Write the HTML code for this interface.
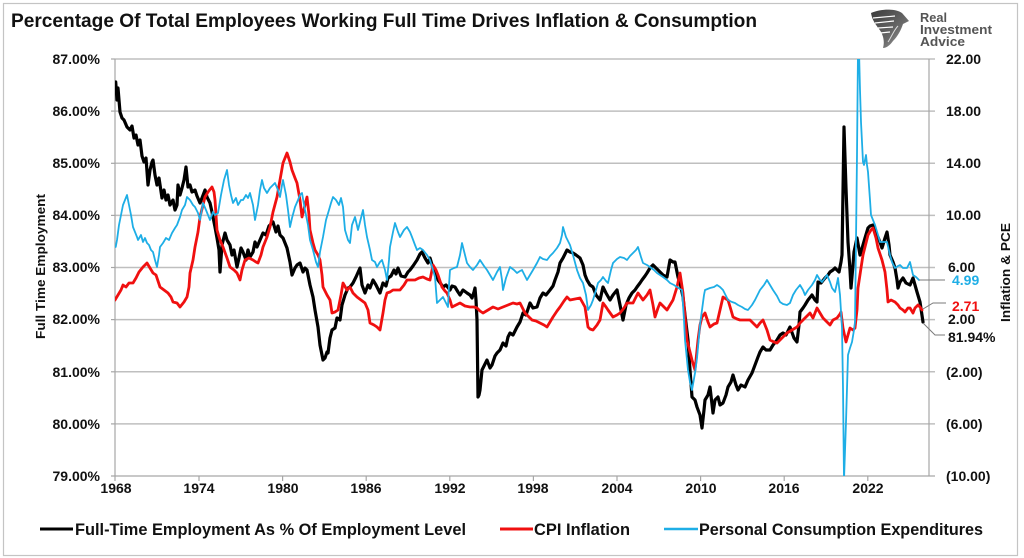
<!DOCTYPE html>
<html>
<head>
<meta charset="utf-8">
<style>
  html,body{margin:0;padding:0;background:#fff;}
  body{width:1024px;height:558px;overflow:hidden;}
  svg{display:block;}
  text{font-family:"Liberation Sans",Arial,sans-serif;font-weight:bold;}
</style>
</head>
<body>
<svg width="1024" height="558" viewBox="0 0 1024 558" xmlns="http://www.w3.org/2000/svg">
  <defs>
    <clipPath id="plot"><rect x="115" y="59" width="814" height="417"/></clipPath>
    <linearGradient id="eg" x1="0" y1="0" x2="1" y2="1">
      <stop offset="0" stop-color="#3a3a3a"/>
      <stop offset="0.6" stop-color="#6a6a6a"/>
      <stop offset="1" stop-color="#b0b0b0"/>
    </linearGradient>
  </defs>
  <rect x="0" y="0" width="1024" height="558" fill="#fff"/>
  <rect x="3.5" y="3.5" width="1014" height="552" fill="none" stroke="#c4c4c4" stroke-width="1.2"/>

  <!-- Title -->
  <text x="11" y="27" font-size="19" fill="#111" textLength="746" lengthAdjust="spacingAndGlyphs">Percentage Of Total Employees Working Full Time Drives Inflation &amp; Consumption</text>

  <!-- Logo -->
  <g>
    <path d="M871,13 C880,9 895,8 902,13 L909,21 L903,24 C901,30 898,36 893,41 C890,45 887,48 883,48 C885,41 883,34 879,29 C876,25 872,20 871,13 Z" fill="url(#eg)"/>
    <path d="M873,18 L895,16 M875,23 L894,21 M878,28 L893,27 M880,33 L890,32" stroke="#fff" stroke-width="1.2" fill="none"/>
    <path d="M898,26 C894,30 892,36 888,42" stroke="#ddd" stroke-width="1" fill="none"/>
    <text x="920" y="22" font-size="12.5" fill="#555" textLength="27" lengthAdjust="spacingAndGlyphs">Real</text>
    <text x="920" y="34" font-size="12.5" fill="#555" textLength="72" lengthAdjust="spacingAndGlyphs">Investment</text>
    <text x="920" y="46" font-size="12.5" fill="#555" textLength="45" lengthAdjust="spacingAndGlyphs">Advice</text>
  </g>

  <!-- Gridlines -->
  <g stroke="#bfbfbf" stroke-width="1.5">
    <line x1="115" y1="59" x2="935" y2="59"/>
    <line x1="115" y1="111.1" x2="935" y2="111.1"/>
    <line x1="115" y1="163.3" x2="935" y2="163.3"/>
    <line x1="115" y1="215.4" x2="935" y2="215.4"/>
    <line x1="115" y1="267.5" x2="935" y2="267.5"/>
    <line x1="115" y1="319.6" x2="935" y2="319.6"/>
    <line x1="115" y1="371.8" x2="935" y2="371.8"/>
    <line x1="115" y1="423.9" x2="935" y2="423.9"/>
  </g>
  <!-- Axes -->
  <g stroke="#a6a6a6" stroke-width="1.2">
    <line x1="115" y1="59" x2="115" y2="476"/>
    <line x1="929" y1="59" x2="929" y2="476"/>
    <line x1="111" y1="476" x2="935" y2="476"/>
    <line x1="111" y1="59" x2="115" y2="59"/>
    <line x1="111" y1="111.1" x2="115" y2="111.1"/>
    <line x1="111" y1="163.3" x2="115" y2="163.3"/>
    <line x1="111" y1="215.4" x2="115" y2="215.4"/>
    <line x1="111" y1="267.5" x2="115" y2="267.5"/>
    <line x1="111" y1="319.6" x2="115" y2="319.6"/>
    <line x1="111" y1="371.8" x2="115" y2="371.8"/>
    <line x1="111" y1="423.9" x2="115" y2="423.9"/>
    <line x1="115" y1="476" x2="115" y2="481"/>
    <line x1="199" y1="476" x2="199" y2="481"/>
    <line x1="282.6" y1="476" x2="282.6" y2="481"/>
    <line x1="366.2" y1="476" x2="366.2" y2="481"/>
    <line x1="449.8" y1="476" x2="449.8" y2="481"/>
    <line x1="533.4" y1="476" x2="533.4" y2="481"/>
    <line x1="617" y1="476" x2="617" y2="481"/>
    <line x1="700.6" y1="476" x2="700.6" y2="481"/>
    <line x1="784.2" y1="476" x2="784.2" y2="481"/>
    <line x1="867.8" y1="476" x2="867.8" y2="481"/>
  </g>

  <!-- Left axis labels -->
  <g font-size="14" fill="#111" text-anchor="end">
    <text x="100" y="64">87.00%</text>
    <text x="100" y="116">86.00%</text>
    <text x="100" y="168">85.00%</text>
    <text x="100" y="220">84.00%</text>
    <text x="100" y="272">83.00%</text>
    <text x="100" y="324">82.00%</text>
    <text x="100" y="377">81.00%</text>
    <text x="100" y="429">80.00%</text>
    <text x="100" y="481">79.00%</text>
  </g>
  <!-- Right axis labels -->
  <g font-size="14" fill="#111">
    <text x="946" y="64">22.00</text>
    <text x="946" y="116">18.00</text>
    <text x="946" y="168">14.00</text>
    <text x="946" y="220">10.00</text>
    <text x="948" y="272">6.00</text>
    <text x="948" y="324">2.00</text>
    <text x="946" y="377">(2.00)</text>
    <text x="946" y="429">(6.00)</text>
    <text x="946" y="481">(10.00)</text>
  </g>
  <!-- X axis labels -->
  <g font-size="14" fill="#111" text-anchor="middle">
    <text x="116" y="493">1968</text>
    <text x="199" y="493">1974</text>
    <text x="283" y="493">1980</text>
    <text x="366" y="493">1986</text>
    <text x="450" y="493">1992</text>
    <text x="533" y="493">1998</text>
    <text x="617" y="493">2004</text>
    <text x="701" y="493">2010</text>
    <text x="784" y="493">2016</text>
    <text x="868" y="493">2022</text>
  </g>

  <!-- Axis titles -->
  <text transform="translate(45,339) rotate(-90)" font-size="13" fill="#111" textLength="145" lengthAdjust="spacingAndGlyphs">Full Time Employment</text>
  <text transform="translate(1010,322) rotate(-90)" font-size="13" fill="#111" textLength="99" lengthAdjust="spacingAndGlyphs">Inflation &amp; PCE</text>

  <!-- Series -->
  <g clip-path="url(#plot)" fill="none" stroke-linejoin="round" stroke-linecap="round">
    <polyline stroke="#000" stroke-width="3.2" points="115.7,82 117,100 118,88 120,112 122,118 124,120 127,127 130,130 132,126 134,138 136,135 138,145 140,140 142,156 144,162 146,158 148,185 150,170 152,162 153,160 155,175 157,185 159,178 162,198 164,190 166,200 168,195 170,205 173,200 175,210 177,205 178,185 180,195 182,188 184,180 186,167 188,187 190,185 192,192 195,190 197,196 200,203 202,198 205,190 207,197 210,203 212,212 215,227 217,238 219,250 220,272 222,245 225,233 227,240 230,245 232,255 234,250 237,267 239,258 241,248 243,252 246,260 248,250 250,257 253,252 255,242 257,247 260,240 263,233 266,235 269,226 273,222 276,232 278,226 280,235 283,238 285,243 287,248 290,262 292,275 295,268 297,265 300,263 303,272 305,268 307,270 310,285 313,297 315,310 318,327 320,345 322,355 323,360 325,358 327,352 328,353 330,338 332,330 335,328 337,318 340,320 342,305 345,295 348,288 350,287 353,283 356,277 360,268 362,285 365,293 368,285 370,288 373,280 376,285 380,293 383,283 386,286 388,278 391,276 394,270 396,274 398,268 401,276 405,277 408,272 410,270 413,266 417,260 420,254 422,252 425,258 428,263 430,258 433,268 436,272 438,280 441,284 443,287 446,285 450,290 452,286 455,287 458,292 460,295 463,290 467,293 470,295 472,298 474,292 475,288 476,300 477,320 478,397 479,395 480,390 482,370 484,366 487,360 490,368 492,365 495,356 497,353 500,350 503,343 506,346 508,337 510,333 513,335 517,327 520,322 523,313 526,315 530,303 533,308 537,307 540,298 543,293 546,295 550,290 553,286 555,280 558,272 560,263 563,258 567,250 570,252 573,253 576,255 580,258 583,265 585,275 587,280 590,285 593,287 596,295 600,300 603,287 606,293 610,300 613,295 617,290 620,305 623,320 626,305 629,298 632,293 635,290 637,287 640,283 642,280 645,276 647,273 650,268 653,265 656,268 660,272 663,275 667,277 670,260 673,262 675,262 678,277 681,287 683,297 685,315 688,340 690,370 692,397 695,400 697,407 700,415 702,428 704,410 705,400 708,395 710,387 713,413 715,400 718,397 720,405 723,403 726,395 728,387 731,382 733,375 736,385 738,390 741,385 745,387 748,380 752,373 755,365 758,357 760,352 763,347 766,350 770,350 773,345 777,340 780,335 783,333 786,335 790,327 794,338 797,342 799,325 800,312 803,308 805,305 808,300 812,295 815,300 817,302 818,282 821,283 825,278 828,275 830,272 833,270 835,268 837,270 839,272 841,262 842,255 844,127 846,188 848,242 850,270 851,288 853,265 854,252 857,238 860,255 863,245 865,238 868,228 870,226 873,225 875,230 877,235 880,242 882,248 885,238 887,232 889,245 890,255 893,262 895,268 897,280 898,288 900,282 903,278 906,283 910,285 913,278 915,285 917,292 920,302 923,322"/>
    <polyline stroke="#f01010" stroke-width="2.8" points="115,300 118,295 121,290 123,285 126,287 129,283 133,283 136,278 139,272 143,267 147,263 150,268 153,273 156,275 160,287 164,290 168,293 171,297 173,302 177,303 180,307 184,302 187,297 189,287 190,273 193,260 195,247 198,232 200,217 203,205 205,197 208,192 212,187 214,192 215,200 217,230 220,240 223,247 227,258 230,267 234,270 237,273 240,280 242,270 245,260 249,258 253,260 256,262 258,263 261,255 263,247 267,237 270,227 273,212 277,197 280,180 283,163 287,153 290,162 292,170 295,178 297,183 300,200 302,217 305,205 307,197 309,215 310,230 313,243 315,250 318,255 320,260 322,275 323,287 327,295 330,300 332,313 335,312 338,310 341,295 343,283 347,290 350,287 353,293 357,297 361,300 365,303 368,310 370,323 374,325 377,327 380,330 383,313 385,300 387,293 390,292 393,290 397,290 400,290 404,285 407,280 411,280 415,280 419,278 423,277 427,279 430,280 433,265 436,270 438,275 442,287 445,291 447,293 450,300 452,307 456,305 460,303 465,306 470,307 474,307 477,308 480,311 483,313 488,310 493,307 498,309 503,307 508,305 513,303 517,304 520,303 525,313 528,316 532,320 536,321 540,323 544,325 547,327 550,322 553,317 557,311 560,307 564,301 567,297 570,300 575,299 580,298 585,307 588,327 590,329 593,330 597,325 600,320 603,303 606,307 608,310 613,317 617,315 620,313 624,308 627,303 633,303 638,293 643,300 647,295 650,290 653,305 655,317 658,308 660,303 664,307 667,310 670,305 673,300 677,287 680,273 683,293 687,340 690,352 692,360 695,370 698,340 700,325 702,317 705,313 708,322 710,327 714,324 717,323 720,310 723,297 726,299 728,300 731,310 733,317 737,319 740,320 745,320 750,320 754,324 757,327 760,323 763,320 767,330 770,340 774,342 777,343 782,338 787,333 792,330 797,327 800,323 803,320 807,316 810,313 813,318 817,308 820,313 823,318 827,322 830,325 833,320 837,318 840,314 841,312 843,328 846,342 848,335 850,328 853,330 855,328 857,310 858,288 861,268 863,255 866,243 868,235 871,230 873,228 876,238 878,248 882,260 885,272 887,290 888,302 891,300 895,302 898,305 900,308 903,310 905,312 908,308 910,308 913,313 915,308 918,305 920,307 922,310"/>
    <polyline stroke="#1eaee6" stroke-width="1.8" points="115.7,247 117,240 119,225 121,215 123,205 125,200 127,195 129,205 131,215 133,227 135,232 137,237 138,240 141,235 143,242 145,238 147,243 149,245 151,250 153,252 155,260 157,267 159,255 160,247 163,243 166,238 169,240 172,233 175,228 177,225 180,217 182,210 185,205 187,197 190,200 193,205 195,207 198,213 200,220 203,203 206,210 208,215 210,220 213,212 215,215 218,213 221,195 224,180 227,170 229,185 231,195 233,203 236,198 238,205 241,200 243,200 246,195 248,198 250,193 253,205 255,220 258,205 260,190 262,180 264,188 267,193 270,188 273,185 275,183 278,190 280,197 282,185 283,180 286,195 288,210 290,227 292,218 295,207 298,200 300,195 302,193 305,210 308,225 310,240 313,250 316,262 318,267 320,252 323,237 326,220 329,210 331,203 333,197 336,200 339,205 341,198 343,207 345,230 348,240 350,243 352,225 355,217 358,230 361,218 363,210 365,225 367,237 370,250 372,260 375,262 377,267 380,262 382,260 385,270 387,280 389,260 390,247 393,232 395,223 398,232 400,237 404,230 407,227 410,232 412,237 415,245 417,250 420,248 423,250 427,255 430,260 433,270 435,277 436,290 437,303 440,300 443,297 446,303 448,307 449,285 450,270 454,268 457,267 460,255 462,243 465,255 467,263 470,267 473,270 477,265 480,260 484,266 487,270 490,275 493,280 497,272 500,267 502,280 503,290 506,278 510,267 514,270 517,273 520,271 522,270 525,276 527,280 530,275 533,270 537,263 540,257 543,259 547,260 550,256 553,253 557,248 560,243 562,235 563,227 566,237 570,245 573,255 577,270 580,278 583,283 586,295 588,310 591,305 593,300 596,290 598,283 601,280 603,277 606,281 608,283 611,270 613,263 617,259 620,257 624,258 627,260 630,256 633,253 636,250 638,247 641,257 643,263 647,265 650,267 654,270 657,273 660,275 663,277 667,280 670,283 674,285 677,287 680,289 682,290 684,320 685,340 687,360 688,370 690,382 692,390 695,373 697,358 698,347 700,325 702,310 704,295 705,290 710,288 714,287 717,285 720,287 723,290 726,296 728,300 732,302 735,303 738,305 742,307 745,309 748,310 752,305 755,300 758,294 760,290 764,285 767,280 770,285 773,290 777,296 780,302 783,304 787,305 790,303 793,295 796,290 800,285 803,290 805,295 808,290 812,285 815,280 817,275 820,280 822,282 825,278 827,275 830,282 832,288 835,292 837,283 838,278 840,295 842,328 843,388 844,480 846,422 848,355 850,348 852,342 854,330 855,322 856,240 857,155 858,50 859,50 860,90 861,122 863,162 864,165 866,155 867,165 868,172 870,200 871,215 873,220 875,225 878,235 880,242 884,242 887,242 890,255 892,262 895,268 898,266 900,265 903,268 907,268 910,262 913,275 916,277 919,280"/>
  </g>

  <!-- Leader lines & end labels -->
  <g stroke="#7a7a7a" stroke-width="1" fill="none">
    <polyline points="919,280 945,280"/>
    <polyline points="923,309 933,303 946,303"/>
    <polyline points="923,323 935,335 945,335"/>
  </g>
  <text x="952" y="285" font-size="14" fill="#1eaee6">4.99</text>
  <text x="952" y="311" font-size="14" fill="#f01010">2.71</text>
  <text x="948" y="342" font-size="14" fill="#111">81.94%</text>

  <!-- Legend -->
  <line x1="40" y1="529" x2="73" y2="529" stroke="#000" stroke-width="3"/>
  <text x="75" y="535" font-size="16.5" fill="#111" textLength="391" lengthAdjust="spacingAndGlyphs">Full-Time Employment As % Of Employment Level</text>
  <line x1="500" y1="529" x2="533" y2="529" stroke="#f01010" stroke-width="3"/>
  <text x="534" y="535" font-size="16.5" fill="#111" textLength="96" lengthAdjust="spacingAndGlyphs">CPI Inflation</text>
  <line x1="664" y1="529" x2="698" y2="529" stroke="#1eaee6" stroke-width="2.5"/>
  <text x="699" y="535" font-size="16.5" fill="#111" textLength="284" lengthAdjust="spacingAndGlyphs">Personal Consumption Expenditures</text>
</svg>
</body>
</html>
